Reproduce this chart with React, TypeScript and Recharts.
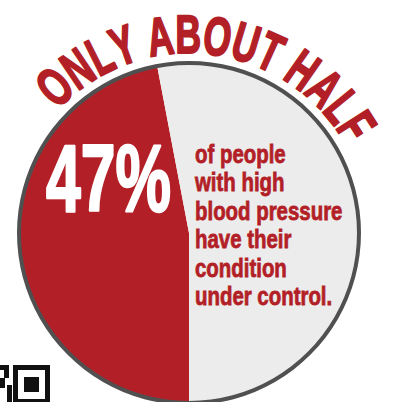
import React from 'react';
import { Pie, PieChart, Cell } from 'recharts';

const RED = '#b31f27';
const GRAY = '#ececec';
const RING = '#505050';

const sliceNames = ['under control', 'not under control'];
const sliceShares = [47, 53];
const ringValues = [1];

const headline = 'ONLY ABOUT HALF';
const bigLabel = '47%';
const bodyLines = [
  'of people',
  'with high',
  'blood pressure',
  'have their',
  'condition',
  'under control.'
];

const data = sliceNames.map((name, i) => ({ name, value: sliceShares[i] }));
const ring = ringValues.map((value) => ({ name: 'ring', value }));

const CX = 189;
const CY = 233;
const FONT = "'Liberation Sans', Arial, sans-serif";

let ctx: CanvasRenderingContext2D | null = null;
function measure(text: string, size: number) {
  if (!ctx) ctx = document.createElement('canvas').getContext('2d');
  if (!ctx) return text.length * size * 0.6;
  ctx.font = `bold ${size}px ${FONT}`;
  return ctx.measureText(text).width;
}

// point on a circle, angle in degrees clockwise from the top
function polar(r: number, deg: number) {
  const a = (deg * Math.PI) / 180;
  return { x: CX + r * Math.sin(a), y: CY - r * Math.cos(a) };
}

// headline bent round the top of the pie, letter by letter
const ArcTitle = () => {
  const R = 180;
  const size = 54;
  const startDeg = -47;
  const endDeg = 61;
  const span = (R * (endDeg - startDeg) * Math.PI) / 180;
  const chars = headline.split('');
  const widths = chars.map((c) => measure(c, size));
  const total = widths.reduce((a, b) => a + b, 0);
  const sx = span / total;
  let acc = 0;
  return (
    <g>
      {chars.map((c, i) => {
        const centre = acc + (widths[i] * sx) / 2;
        acc += widths[i] * sx;
        const deg = startDeg + (centre / R) * (180 / Math.PI);
        const p = polar(R, deg);
        return (
          <text
            key={i}
            transform={`translate(${p.x} ${p.y}) rotate(${deg}) scale(${sx} 1)`}
            textAnchor="middle"
            fill={RED}
            stroke={RED}
            strokeWidth={2}
            strokeLinejoin="round"
            fontFamily={FONT}
            fontWeight="bold"
            fontSize={size}
          >
            {c}
          </text>
        );
      })}
    </g>
  );
};

const Overlay = () => (
  <svg width={393} height={402} style={{ position: 'absolute', left: 0, top: 0, pointerEvents: 'none' }}>
    <ArcTitle />
    <text
      x={46}
      y={211}
      fill="#fff"
      stroke="#fff"
      strokeWidth={2.5}
      strokeLinejoin="round"
      fontFamily={FONT}
      fontWeight="bold"
      fontSize={94}
      textLength={125}
      lengthAdjust="spacingAndGlyphs"
    >
      {bigLabel}
    </text>
    {bodyLines.map((line, i) => (
      <text
        key={line}
        x={195}
        y={163 + i * 28.4}
        fill={RED}
        stroke={RED}
        strokeWidth={0.8}
        fontFamily={FONT}
        fontWeight="bold"
        fontSize={26}
        textLength={measure(line, 26) * 0.785}
        lengthAdjust="spacingAndGlyphs"
      >
        {line}
      </text>
    ))}
    {/* cut-off code in the corner */}
    <g fill="#111">
      <rect x={0} y={365} width={9} height={5} />
      <rect x={4} y={370} width={5} height={8} />
      <rect x={0} y={378} width={5} height={10} />
      <rect x={7} y={385} width={5} height={17} />
      <rect x={15.5} y={367.5} width={32} height={34} fill="none" stroke="#111" strokeWidth={5} />
      <rect x={24} y={377} width={15} height={15} />
    </g>
  </svg>
);

export default function App() {
  return (
    <div style={{ position: 'absolute', left: 0, top: 0, width: 393, height: 402, background: '#fff' }}>
      <PieChart width={393} height={402} margin={{ top: 0, right: 0, bottom: 0, left: 0 }}>
        <Pie
          data={data}
          dataKey="value"
          cx={CX}
          cy={CY}
          outerRadius={169}
          startAngle={270}
          endAngle={-90}
          stroke="none"
          isAnimationActive={false}
        >
          {data.map((d, i) => (
            <Cell key={d.name} fill={i === 0 ? RED : GRAY} />
          ))}
        </Pie>
        <Pie
          data={ring}
          dataKey="value"
          cx={CX}
          cy={CY}
          innerRadius={168}
          outerRadius={172}
          startAngle={90}
          endAngle={-270}
          fill={RING}
          stroke="none"
          isAnimationActive={false}
        />
      </PieChart>
      <Overlay />
    </div>
  );
}
